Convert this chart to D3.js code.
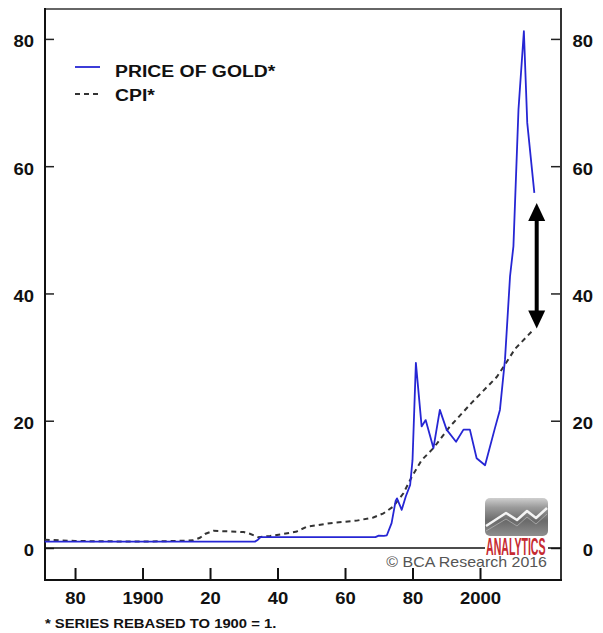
<!DOCTYPE html>
<html>
<head>
<meta charset="utf-8">
<script src="https://cdn.jsdelivr.net/npm/d3@7"></script>
<style>
  body { margin: 0; background: #fff; }
  svg { display: block; }
  text { font-family: "Liberation Sans", Arial, Helvetica, sans-serif; }
</style>
</head>
<body>
<script>
// Price of gold vs. US consumer prices, both rebased to 1900 = 1
const goldYears  = [1871, 1933.3, 1934.2, 1935, 1969, 1970, 1971.5, 1972.4, 1973.8, 1975, 1975.4, 1976.8, 1978, 1979.3, 1980, 1981,
                    1982.7, 1983.9, 1986.2, 1988.1, 1990.1, 1992.9, 1995.1, 1997, 1999, 2001.5, 2004.4, 2005.9, 2007.4,
                    2008.9, 2009.9, 2011.4, 2013, 2014, 2016.1];
const goldValues = [1.0, 1.0, 1.3, 1.7, 1.7, 1.95, 1.9, 2.0, 3.9, 7.4, 7.8, 6.0, 8.1, 9.9, 13.8, 29.1,
                    19.1, 20.1, 15.7, 21.7, 18.6, 16.7, 18.6, 18.6, 14.1, 13.0, 18.8, 21.7, 29.6,
                    42.7, 47.4, 68.9, 81.2, 66.8, 55.8];

const cpiYears  = [1871, 1880, 1900, 1910, 1915, 1917, 1918.5, 1921, 1926, 1930, 1932, 1934.3, 1937.8, 1941.7, 1945.7, 1948.7,
                   1955.6, 1963.5, 1968.4, 1971.4, 1974.3, 1977.3, 1979.8, 1982.7, 1986.2, 1991.1, 1997.5, 2005,
                   2007, 2010.4, 2016];
const cpiValues = [1.3, 1.1, 1.0, 1.1, 1.2, 1.6, 2.2, 2.7, 2.6, 2.5, 2.2, 1.7, 1.9, 2.2, 2.6, 3.35,
                   3.9, 4.3, 4.8, 5.45, 6.5, 8.6, 11.2, 13.8, 15.7, 19.1, 22.8, 26.9,
                   28.5, 31.3, 34.4];

const xTickYears  = [1880, 1900, 1920, 1940, 1960, 1980, 2000];
const xTickLabels = ["80", "1900", "20", "40", "60", "80", "2000"];
const yTickValues = [0, 20, 40, 60, 80];

// gap between the latest gold price and the CPI
const gapYear = 2016.8;
const gapValues = [54.2, 34.5];

const legendItems = ["PRICE OF GOLD*", "CPI*"];
const footnote = "* SERIES REBASED TO 1900 = 1.";
const credit = "\u00A9 BCA Research 2016";
const logoWord = "ANALYTICS";

const W = 603, H = 633;
const L = 45, R = 561, T = 9, B = 580;
const SX = 1.12; // horizontal stretch of the lettering

const svg = d3.select("body").append("svg").attr("width", W).attr("height", H);
svg.append("rect").attr("width", W).attr("height", H).attr("fill", "#fff");

const x = d3.scaleLinear().domain([1871.1, 2024]).range([L, R]);
const y = d3.scaleLinear().domain([-5.03, 84.7]).range([B, T]);

const bold = sel => sel.attr("font-weight", "bold").attr("fill", "#111");

// Bottom axis: ticks rise from the frame
const xAxis = svg.append("g").attr("transform", `translate(0,${B})`)
  .call(d3.axisBottom(x).tickValues(xTickYears).tickSize(-12).tickFormat((d, i) => xTickLabels[i]));
xAxis.select(".domain").remove();
xAxis.selectAll(".tick line").attr("stroke", "#111").attr("stroke-width", 2);
xAxis.selectAll(".tick text")
  .attr("y", 0).attr("dy", null)
  .attr("transform", `translate(0,24) scale(${SX},1)`)
  .attr("font-size", 16.5).call(bold);

// Left value axis
const yLeft = svg.append("g").attr("transform", `translate(${L},0)`)
  .call(d3.axisLeft(y).tickValues(yTickValues).tickSize(-9));
yLeft.select(".domain").remove();
yLeft.selectAll(".tick line").attr("stroke", "#222").attr("stroke-width", 1.5);
yLeft.selectAll(".tick text")
  .attr("x", 0).attr("dy", null).attr("y", 0)
  .attr("text-anchor", "end")
  .attr("transform", `translate(-11,8) scale(${SX},1)`)
  .attr("font-size", 16.5).call(bold);

// Right value axis
const yRight = svg.append("g").attr("transform", `translate(${R},0)`)
  .call(d3.axisRight(y).tickValues(yTickValues).tickSize(-10));
yRight.select(".domain").remove();
yRight.selectAll(".tick line").attr("stroke", "#222").attr("stroke-width", 1.5);
yRight.selectAll(".tick text")
  .attr("x", 0).attr("dy", null).attr("y", 0)
  .attr("text-anchor", "end")
  .attr("transform", `translate(32,8) scale(${SX},1)`)
  .attr("font-size", 16.5).call(bold);

// Frame
svg.append("line").attr("x1", L).attr("x2", R).attr("y1", T).attr("y2", T)
  .attr("stroke", "#666").attr("stroke-width", 2);
svg.append("line").attr("x1", L).attr("x2", L).attr("y1", T - 1).attr("y2", B + 1)
  .attr("stroke", "#111").attr("stroke-width", 2);
svg.append("line").attr("x1", R).attr("x2", R).attr("y1", T - 1).attr("y2", B + 1)
  .attr("stroke", "#333").attr("stroke-width", 2);
svg.append("line").attr("x1", L - 1).attr("x2", R + 1).attr("y1", B).attr("y2", B)
  .attr("stroke", "#111").attr("stroke-width", 2);

// Zero line
svg.append("line").attr("x1", L).attr("x2", R).attr("y1", y(0)).attr("y2", y(0))
  .attr("stroke", "#111").attr("stroke-width", 1.6);

// Series
const line = d3.line().x(d => x(d[0])).y(d => y(d[1]));
svg.append("path").datum(d3.zip(cpiYears, cpiValues))
  .attr("d", line).attr("fill", "none")
  .attr("stroke", "#333").attr("stroke-width", 2).attr("stroke-dasharray", "5,4");
svg.append("path").datum(d3.zip(goldYears, goldValues))
  .attr("d", line).attr("fill", "none")
  .attr("stroke", "#2626d4").attr("stroke-width", 1.8).attr("stroke-linejoin", "round");

// Double-headed arrow marking the gap
const ax = x(gapYear), aTop = y(gapValues[0]), aBot = y(gapValues[1]);
const headLen = 18, headHalf = 8.5;
svg.append("line").attr("x1", ax).attr("x2", ax).attr("y1", aTop + headLen - 2).attr("y2", aBot - headLen + 2)
  .attr("stroke", "#000").attr("stroke-width", 4);
svg.append("path")
  .attr("d", `M${ax},${aTop} L${ax - headHalf},${aTop + headLen} L${ax + headHalf},${aTop + headLen} Z`)
  .attr("fill", "#000");
svg.append("path")
  .attr("d", `M${ax},${aBot} L${ax - headHalf},${aBot - headLen} L${ax + headHalf},${aBot - headLen} Z`)
  .attr("fill", "#000");

// Legend
const legend = svg.append("g");
legend.append("line").attr("x1", 75).attr("x2", 100).attr("y1", 67).attr("y2", 67)
  .attr("stroke", "#2626d4").attr("stroke-width", 1.8);
legend.append("line").attr("x1", 75).attr("x2", 100).attr("y1", 94).attr("y2", 94)
  .attr("stroke", "#333").attr("stroke-width", 2).attr("stroke-dasharray", "5,4");
legend.selectAll("text").data(legendItems).join("text")
  .attr("transform", (d, i) => `translate(115,${77 + i * 23.5}) scale(1.14,1)`)
  .attr("font-size", 17).text(d => d).call(bold);

// Footnote
svg.append("text").attr("transform", `translate(45,628) scale(1.14,1)`)
  .attr("font-size", 13).text(footnote).call(bold);

// Logo: grey tile with a white zigzag, red word beneath
const defs = svg.append("defs");
const grad = defs.append("linearGradient").attr("id", "tile").attr("x1", 0).attr("x2", 0).attr("y1", 0).attr("y2", 1);
grad.append("stop").attr("offset", "0%").attr("stop-color", "#cfcfcf");
grad.append("stop").attr("offset", "25%").attr("stop-color", "#9a9a9a");
grad.append("stop").attr("offset", "60%").attr("stop-color", "#6a6a6a");
grad.append("stop").attr("offset", "100%").attr("stop-color", "#8e8e8e");
const logo = svg.append("g");
logo.append("rect").attr("x", 485).attr("y", 498).attr("width", 63).attr("height", 38).attr("rx", 5)
  .attr("fill", "url(#tile)");
logo.append("polyline")
  .attr("points", "486,526 506,513 517,520 527,511 536,518 547,508")
  .attr("fill", "none").attr("stroke", "#f4f4f4").attr("stroke-width", 2.5).attr("stroke-linejoin", "round");
logo.append("polyline")
  .attr("points", "486,531 506,519 517,526 527,517 536,524 547,514")
  .attr("fill", "none").attr("stroke", "#b8b8b8").attr("stroke-width", 1).attr("opacity", 0.7);
logo.append("rect").attr("x", 485).attr("y", 537).attr("width", 63).attr("height", 18).attr("fill", "#fff");
// condensed lettering: squeeze the bold face horizontally
logo.append("text")
  .attr("transform", "translate(486,554.5) scale(0.45,1)")
  .attr("font-size", 23.5).attr("font-weight", "bold").attr("fill", "#c62a31")
  .text(logoWord);

// Credit line
svg.append("text").attr("text-anchor", "end")
  .attr("transform", `translate(547,567) scale(1.14,1)`)
  .attr("font-size", 14).attr("fill", "#555").text(credit);
</script>
</body>
</html>
